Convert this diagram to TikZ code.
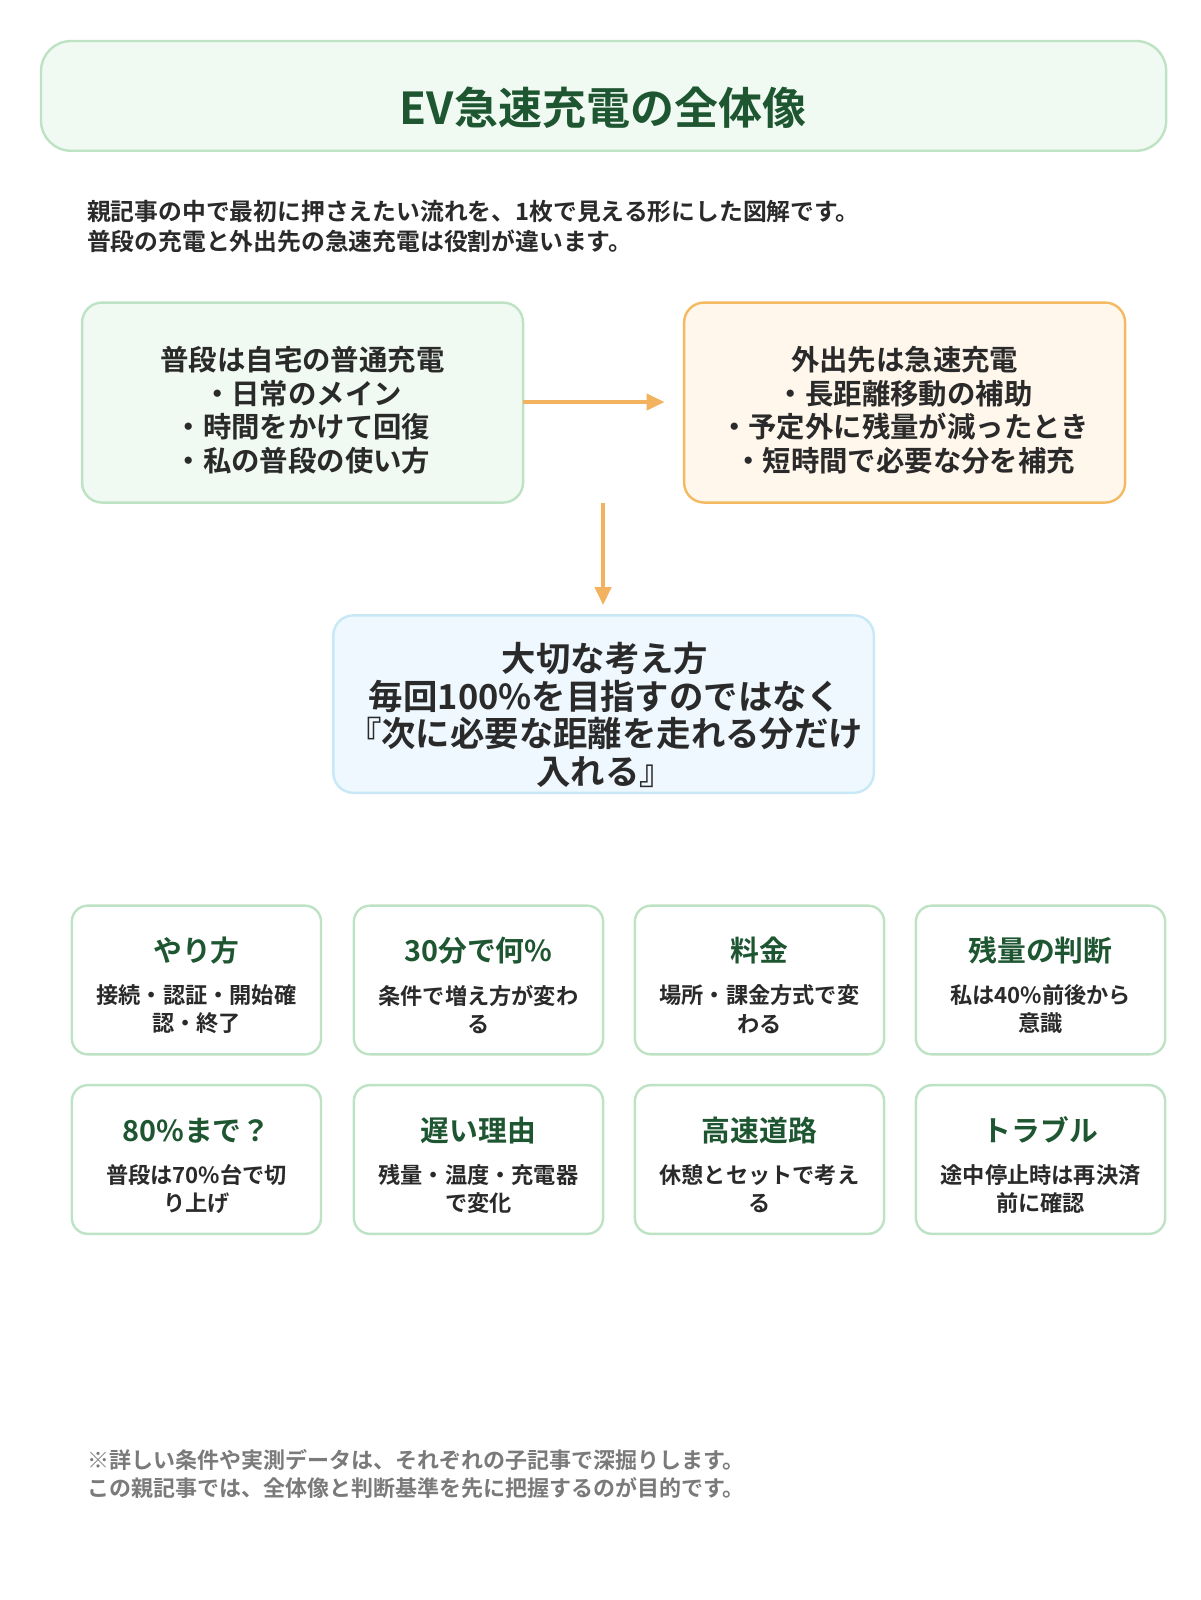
\documentclass[tikz,border=0pt]{standalone}
\usepackage{fontspec}
\setmainfont{Noto Sans CJK JP}[BoldFont={* Bold}]
\usetikzlibrary{arrows.meta}
\definecolor{dg}{HTML}{1E5631}
\definecolor{txt}{HTML}{2A2A2A}
\definecolor{gb}{HTML}{BDE3C4}
\definecolor{gf}{HTML}{F0FAF2}
\definecolor{of}{HTML}{FFF6EC}
\definecolor{ob}{HTML}{F4BA62}
\definecolor{bf}{HTML}{EEF8FE}
\definecolor{bb}{HTML}{C8E8F5}
\definecolor{arr}{HTML}{F2B25E}
\definecolor{gr}{HTML}{7A7A7A}
\newcommand{\fs}[1]{\fontsize{#1}{#1}\selectfont\bfseries}
\begin{document}
\begin{tikzpicture}[x=0.5128pt,y=-0.5128pt,
 box/.style={draw=gb,line width=1.2pt,rounded corners=10pt},
 card/.style={draw=gb,line width=1.2pt,fill=white,rounded corners=8pt},
 ctitle/.style={text=dg,font=\fs{14.4pt}},
 cbody/.style={text=txt,font=\fs{11.1pt},align=center,text width=110pt},
 arrow/.style={draw=arr,line width=2pt,-{Triangle[length=9pt,width=8pt]}}]
\useasboundingbox (0,0) rectangle (1170,1560);
\fill[white] (0,0) rectangle (1170,1560);
\draw[box,fill=gf,rounded corners=15pt] (40,40) rectangle (1137,147);
\node[text=dg,font=\fs{22pt}] (title) at (588,105) {EV急速充電の全体像};
\node[anchor=west,text=txt,font=\fs{11.9pt}] (i1) at (78,206) {親記事の中で最初に押さえたい流れを、1枚で見える形にした図解です。};
\node[anchor=west,text=txt,font=\fs{11.9pt}] (i2) at (78,235) {普段の充電と外出先の急速充電は役割が違います。};
\draw[box,fill=gf] (80,295) rectangle (510,490);
\node[text=txt,font=\fs{14.2pt},align=center] (A) at (295,400) {普段は自宅の普通充電\\[2.5pt]・日常のメイン\\[2.5pt]・時間をかけて回復\\[2.5pt]・私の普段の使い方};
\draw[box,fill=of,draw=ob] (667,295) rectangle (1097,490);
\node[text=txt,font=\fs{14.2pt},align=center] (B) at (882,400) {外出先は急速充電\\[2.5pt]・長距離移動の補助\\[2.5pt]・予定外に残量が減ったとき\\[2.5pt]・短時間で必要な分を補充};
\coordinate (a1) at (510,392); \coordinate (a2) at (648,392);
\draw[arrow] (a1) -- (a2);
\coordinate (d1) at (588,490); \coordinate (d2) at (588,590);
\draw[arrow] (d1) -- (d2);
\draw[box,fill=bf,draw=bb] (325,600) rectangle (852,773);
\node[text=txt,font=\fs{17.2pt},align=center] (C) at (590,697) {大切な考え方\\[1.5pt]毎回100\%を目指すのではなく\\[1.5pt]『次に必要な距離を走れる分だけ\\[1.5pt]入れる』};
\foreach \x/\y/\t/\b/\n in {
 70/883/やり方/{接続・認証・開始確\\[3pt]認・終了}/c1,
 345/883/30分で何\%/{条件で増え方が変わ\\[3pt]る}/c2,
 619/883/料金/{場所・課金方式で変\\[3pt]わる}/c3,
 893/883/残量の判断/{私は40\%前後から\\[3pt]意識}/c4,
 70/1058/80\%まで？/{普段は70\%台で切\\[3pt]り上げ}/c5,
 345/1058/遅い理由/{残量・温度・充電器\\[3pt]で変化}/c6,
 619/1058/高速道路/{休憩とセットで考え\\[3pt]る}/c7,
 893/1058/トラブル/{途中停止時は再決済\\[3pt]前に確認}/c8}{
 \draw[card] (\x,\y) rectangle ++(243,145);
 \node[ctitle] (\n t) at (\x+121.5,\y+44) {\t};
 \node[cbody] (\n b) at (\x+121.5,\y+101) {\b};
}
\node[anchor=west,text=gr,font=\fs{11pt}] (f1) at (78,1423) {※詳しい条件や実測データは、それぞれの子記事で深掘りします。};
\node[anchor=west,text=gr,font=\fs{11pt}] (f2) at (78,1451) {この親記事では、全体像と判断基準を先に把握するのが目的です。};
\end{tikzpicture}
\end{document}
